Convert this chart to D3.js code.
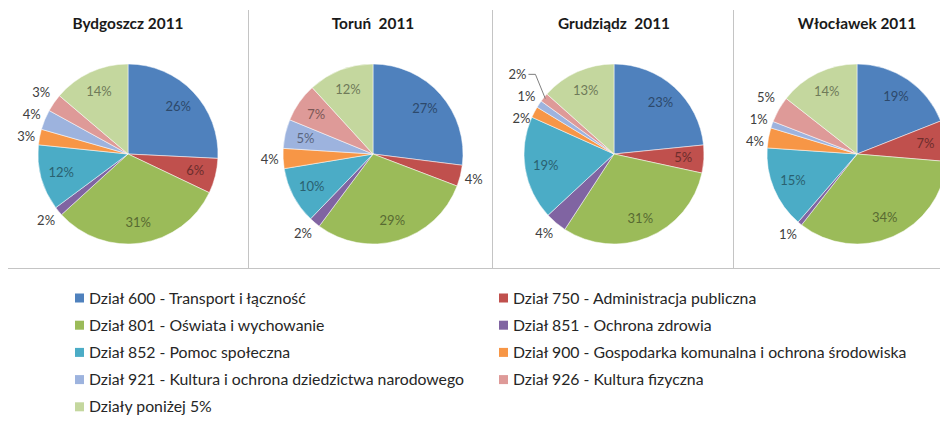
<!DOCTYPE html>
<html>
<head>
<meta charset="utf-8">
<script src="https://cdn.jsdelivr.net/npm/d3@7"></script>
<style>
  html, body { margin: 0; padding: 0; background: #fff; }
  svg { display: block; font-family: Lato, "Open Sans", sans-serif; }
</style>
</head>
<body>
<div id="chart"></div>
<script>
'use strict';

// titles of the four pies
const cities = ['Bydgoszcz 2011', 'Toruń  2011', 'Grudziądz  2011', 'Włocławek 2011'];

// budget sections (legend order = slice order)
const categories = [
    'Dział 600 - Transport i łączność',
    'Dział 750 - Administracja publiczna',
    'Dział 801 - Oświata i wychowanie',
    'Dział 851 - Ochrona zdrowia',
    'Dział 852 - Pomoc społeczna',
    'Dział 900 - Gospodarka komunalna i ochrona środowiska',
    'Dział 921 - Kultura i ochrona dziedzictwa narodowego',
    'Dział 926 - Kultura fizyczna',
    'Działy poniżej 5%'
];

// shares in percent
const bydgoszcz = [25.8, 6.3, 31.2, 1.6, 11.8, 2.8, 3.6, 3.2, 13.8];
const torun     = [27.0, 3.8, 29.4, 2.0, 10.2, 3.6, 5.2, 7.0, 11.8];
const grudziadz = [23.4, 5.0, 30.8, 3.9, 18.6, 2.0, 1.3, 1.6, 13.4];
const wloclawek = [19.0, 7.3, 34.2, 0.8, 14.7, 3.6, 1.2, 4.7, 14.4];

const series = [bydgoszcz, torun, grudziadz, wloclawek];

const colors = ['#4f81bd', '#c0504d', '#9bbb59', '#8064a2', '#4bacc6',
                '#f79646', '#9db3de', '#de9a98', '#c4d79e'];

let width = 940, height = 421;
let R = 90, cy = 154;
let centers = [128, 373, 614, 857];
let separators = [248, 492, 733];

let svg = d3.select('#chart').append('svg')
    .attr('width', width)
    .attr('height', height);

// panel frame lines
svg.append('g').selectAll('line')
    .data(separators)
    .join('line')
    .attr('x1', d => d + 0.5).attr('x2', d => d + 0.5)
    .attr('y1', 10).attr('y2', 268)
    .attr('stroke', '#c4c4c4');

svg.append('line')
    .attr('x1', 8).attr('x2', width)
    .attr('y1', 268.5).attr('y2', 268.5)
    .attr('stroke', '#c4c4c4');

let pie = d3.pie().sort(null).value(d => d);
let arc = d3.arc().innerRadius(0).outerRadius(R);

function clamp(v) {
    return Math.max(-1, Math.min(1, v));
}

series.forEach(function(values, i) {
    let g = svg.append('g')
        .attr('transform', 'translate(' + centers[i] + ',' + cy + ')');

    // title
    svg.append('text')
        .attr('x', centers[i])
        .attr('y', 24)
        .attr('dy', '0.35em')
        .attr('text-anchor', 'middle')
        .style('font-weight', 'bold')
        .style('font-size', '15.4px')
        .style('white-space', 'pre')
        .attr('fill', '#1a1a1a')
        .text(cities[i]);

    let arcs = pie(values);

    g.selectAll('path')
        .data(arcs)
        .join('path')
        .attr('d', arc)
        .attr('fill', (d, j) => colors[j])
        .attr('stroke', '#fff')
        .attr('stroke-width', 0.5);

    let outside = [];

    arcs.forEach(function(d, j) {
        let mid = (d.startAngle + d.endAngle) / 2;
        let sx = Math.sin(mid), sy = -Math.cos(mid);
        let t = g.append('text')
            .attr('text-anchor', 'middle')
            .attr('dy', '0.35em')
            .style('font-size', '13px')
            .text(Math.round(d.data) + '%');

        if (d.data >= 5) {
            // inside label, darker shade of the slice colour
            t.attr('x', sx * R * 0.77)
                .attr('y', sy * R * 0.77)
                .attr('fill', d3.color(colors[j]).darker(1.6));
        } else {
            let w = t.node().getComputedTextLength();
            let h = 14;
            let ax = sx * R * 1.05, ay = sy * R * 1.05;
            outside.push({
                t: t, sx: sx, sy: sy, w: w, h: h,
                x: ax + Math.sign(sx) * w / 2,
                y: ay + clamp(sy * 1.5) * h / 2
            });
            t.attr('fill', '#404040');
        }
    });

    // push overlapping outside labels apart, per side
    let gap = 22;
    [-1, 1].forEach(function(side) {
        let list = outside.filter(o => Math.sign(o.sx) === side)
            .sort((a, b) => a.y - b.y);
        for (let it = 0; it < 100; it++) {
            for (let k = 1; k < list.length; k++) {
                let dd = list[k].y - list[k - 1].y;
                if (dd < gap) {
                    let s = (gap - dd) / 2;
                    list[k - 1].y -= s;
                    list[k].y += s;
                }
            }
        }
    });

    outside.forEach(function(o) {
        let ex = o.sx * R, ey = o.sy * R;
        let dx = Math.max(0, o.x - o.w / 2 - ex, ex - (o.x + o.w / 2));
        let dy = Math.max(0, o.y - o.h / 2 - ey, ey - (o.y + o.h / 2));
        if (Math.hypot(dx, dy) > 10) {
            // too far from its slice: move out and draw a leader line
            let side = Math.sign(o.sx);
            o.x += side * 14;
            let x0 = o.x - side * (o.w / 2 + 2);
            let x1 = x0 - side * 7;
            g.append('polyline')
                .attr('points', [[x0, o.y], [x1, o.y], [o.sx * R * 0.98, o.sy * R * 0.98]].join(' '))
                .attr('fill', 'none')
                .attr('stroke', '#7f7f7f')
                .attr('stroke-width', 1);
        }
        o.t.attr('x', o.x).attr('y', o.y);
    });
});

// legend, two columns
let legendX = [75, 499];
let legendY0 = 298, legendStep = 27.2;

let legend = svg.append('g').selectAll('g')
    .data(categories)
    .join('g')
    .attr('transform', (d, i) => 'translate(' + legendX[i % 2] + ',' + (legendY0 + Math.floor(i / 2) * legendStep) + ')');

legend.append('rect')
    .attr('x', 0).attr('y', -4.5)
    .attr('width', 9).attr('height', 9)
    .attr('fill', (d, i) => colors[i]);

legend.append('text')
    .attr('x', 14)
    .attr('dy', '0.35em')
    .style('font-size', '15.8px')
    .attr('fill', '#262626')
    .text(d => d);
</script>
</body>
</html>
